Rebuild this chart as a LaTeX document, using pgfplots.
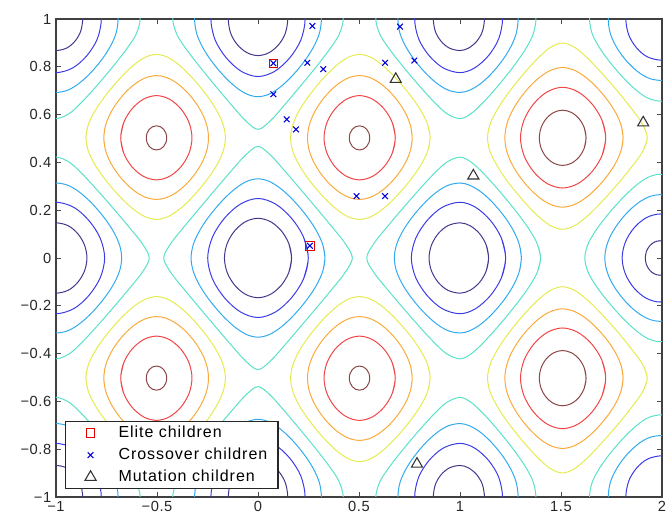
\documentclass[border=0pt]{standalone}
\usepackage{fontspec}
\setmainfont{Liberation Sans}
\usepackage{pgfplots}
\usepackage{pgfplotstable}
\pgfplotsset{compat=1.18}

\definecolor{c5}{RGB}{70,55,140}
\definecolor{c10}{RGB}{60,60,230}
\definecolor{c15}{RGB}{50,170,240}
\definecolor{c20}{RGB}{90,225,200}
\definecolor{c25}{RGB}{228,235,80}
\definecolor{c30}{RGB}{250,170,60}
\definecolor{c35}{RGB}{240,70,70}
\definecolor{c40}{RGB}{140,70,70}

\def\X{\thisrow{x}}
\def\Y{\thisrow{y}}
\newcommand{\cplot}[4]{\addplot[cl,#1] table[x expr=#2,y expr=#3]{#4};}

% contour rings of the Rastrigin function, levels 5,10,...,40
% basin (0,0)
\pgfplotstableread{
x y
0.1524 -0.0610
0.1661 0
0.1524 0.0610
0.1146 0.1146
0.0610 0.1524
0 0.1661
-0.0610 0.1524
-0.1146 0.1146
-0.1524 0.0610
-0.1661 0
-0.1524 -0.0610
-0.1146 -0.1146
-0.0610 -0.1524
0 -0.1661
0.0610 -0.1524
0.1146 -0.1146
0.1524 -0.0610
0.1661 0
0.1524 0.0610
}\tAa
\pgfplotstableread{
x y
0.2258 -0.0867
0.2490 0
0.2258 0.0867
0.1661 0.1661
0.0867 0.2258
0 0.2490
-0.0867 0.2258
-0.1661 0.1661
-0.2258 0.0867
-0.2490 0
-0.2258 -0.0867
-0.1661 -0.1661
-0.0867 -0.2258
0 -0.2490
0.0867 -0.2258
0.1661 -0.1661
0.2258 -0.0867
0.2490 0
0.2258 0.0867
}\tAb
\pgfplotstableread{
x y
0.3212 -0.0537
0.3313 0
0.3212 0.0537
0.2939 0.1070
0.2548 0.1594
0.2091 0.2091
0.1594 0.2548
0.1070 0.2939
0.0537 0.3212
0 0.3313
-0.0537 0.3212
-0.1070 0.2939
-0.1594 0.2548
-0.2091 0.2091
-0.2548 0.1594
-0.2939 0.1070
-0.3212 0.0537
-0.3313 0
-0.3212 -0.0537
-0.2939 -0.1070
-0.2548 -0.1594
-0.2091 -0.2091
-0.1594 -0.2548
-0.1070 -0.2939
-0.0537 -0.3212
0 -0.3313
0.0537 -0.3212
0.1070 -0.2939
0.1594 -0.2548
0.2091 -0.2091
0.2548 -0.1594
0.2939 -0.1070
0.3212 -0.0537
0.3313 0
0.3212 0.0537
}\tAc
\pgfplotstableread{
x y
0.4303 -0.0622
0.4670 0
0.4303 0.0622
0.3722 0.1244
0.3107 0.1870
0.2490 0.2490
0.1870 0.3107
0.1244 0.3722
0.0622 0.4303
0 0.4670
-0.0622 0.4303
-0.1244 0.3722
-0.1870 0.3107
-0.2490 0.2490
-0.3107 0.1870
-0.3722 0.1244
-0.4303 0.0622
-0.4670 0
-0.4303 -0.0622
-0.3722 -0.1244
-0.3107 -0.1870
-0.2490 -0.2490
-0.1870 -0.3107
-0.1244 -0.3722
-0.0622 -0.4303
0 -0.4670
0.0622 -0.4303
0.1244 -0.3722
0.1870 -0.3107
0.2490 -0.2490
0.3107 -0.1870
0.3722 -0.1244
0.4303 -0.0622
0.4670 0
0.4303 0.0622
}\tAd

% basin (1,0), also used mirrored for (-1,0), (0,1), (0,-1)
\pgfplotstableread{
x y
1.1297 -0.0543
1.1414 0
1.1297 0.0543
1.0968 0.1021
1.0496 0.1352
1.0 0.1471
0.9401 0.1352
0.8924 0.1021
0.8589 0.0543
0.8469 0
0.8589 -0.0543
0.8924 -0.1021
0.9401 -0.1352
1.0 -0.1471
1.0496 -0.1352
1.0968 -0.1021
1.1297 -0.0543
1.1414 0
1.1297 0.0543
}\tBa
\pgfplotstableread{
x y
1.2054 -0.0822
1.2260 0
1.2054 0.0822
1.1510 0.1568
1.0771 0.2121
1.0 0.2332
0.9123 0.2121
0.8371 0.1568
0.7808 0.0822
0.7592 0
0.7808 -0.0822
0.8371 -0.1568
0.9123 -0.2121
1.0 -0.2332
1.0771 -0.2121
1.1510 -0.1568
1.2054 -0.0822
1.2260 0
1.2054 0.0822
}\tBb
\pgfplotstableread{
x y
1.2950 -0.0519
1.3036 0
1.2950 0.0519
1.2714 0.1032
1.2364 0.1535
1.1943 0.2008
1.1477 0.2439
1.0980 0.2801
1.0469 0.3048
1.0 0.3138
0.9428 0.3048
0.8912 0.2801
0.8404 0.2439
0.7923 0.2008
0.7482 0.1535
0.7106 0.1032
0.6845 0.0519
0.6749 0
0.6845 -0.0519
0.7106 -0.1032
0.7482 -0.1535
0.7923 -0.2008
0.8404 -0.2439
0.8912 -0.2801
0.9428 -0.3048
1.0 -0.3138
1.0469 -0.3048
1.0980 -0.2801
1.1477 -0.2439
1.1943 -0.2008
1.2364 -0.1535
1.2714 -0.1032
1.2950 -0.0519
1.3036 0
1.2950 0.0519
}\tBc
\pgfplotstableread{
x y
1.3819 -0.0606
1.3988 0
1.3819 0.0606
1.3413 0.1211
1.2897 0.1817
1.2337 0.2411
1.1755 0.2992
1.1156 0.3545
1.0556 0.4008
1.0 0.4221
0.9341 0.4008
0.8732 0.3545
0.8119 0.2992
0.7510 0.2411
0.6905 0.1817
0.6304 0.1211
0.5735 0.0606
0.5382 0
0.5735 -0.0606
0.6304 -0.1211
0.6905 -0.1817
0.7510 -0.2411
0.8119 -0.2992
0.8732 -0.3545
0.9341 -0.4008
1.0 -0.4221
1.0556 -0.4008
1.1156 -0.3545
1.1755 -0.2992
1.2337 -0.2411
1.2897 -0.1817
1.3413 -0.1211
1.3819 -0.0606
1.3988 0
1.3819 0.0606
}\tBd

% basin (2,0)
\pgfplotstableread{
x y
2.056 -0.0271
2.062 0
2.056 0.0271
2.041 0.0504
2.019 0.0659
1.99 0.0722
1.9610 0.0659
1.9384 0.0504
1.9228 0.0271
1.9173 0
1.9228 -0.0271
1.9384 -0.0504
1.9610 -0.0659
1.99 -0.0722
2.019 -0.0659
2.041 -0.0504
2.056 -0.0271
2.062 0
2.056 0.0271
}\tCa
\pgfplotstableread{
x y
2.157 -0.0668
2.172 0
2.157 0.0668
2.1155 0.1262
2.057 0.1684
1.99 0.1842
1.9219 0.1684
1.8620 0.1262
1.8187 0.0668
1.8027 0
1.8187 -0.0668
1.8620 -0.1262
1.9219 -0.1684
1.99 -0.1842
2.057 -0.1684
2.1155 -0.1262
2.157 -0.0668
2.172 0
2.157 0.0668
}\tCb
\pgfplotstableread{
x y
2.081 0.2394
2.037 0.2582
1.99 0.2651
1.9428 0.2582
1.8975 0.2394
1.8532 0.2107
1.8118 0.1751
1.7748 0.1348
1.7444 0.0912
1.7243 0.0458
1.7171 0
1.7243 -0.0458
1.7444 -0.0912
1.7748 -0.1348
1.8118 -0.1751
1.8532 -0.2107
1.8975 -0.2394
1.9428 -0.2582
1.99 -0.2651
2.037 -0.2582
2.081 -0.2394
}\tCc
\pgfplotstableread{
x y
2.1004 0.3081
2.0461 0.3385
1.99 0.3504
1.9333 0.3385
1.8778 0.3081
1.8221 0.2657
1.7680 0.2172
1.7161 0.1651
1.6689 0.1107
1.6325 0.0554
1.6178 0
1.6325 -0.0554
1.6689 -0.1107
1.7161 -0.1651
1.7680 -0.2172
1.8221 -0.2657
1.8778 -0.3081
1.9333 -0.3385
1.99 -0.3504
2.0461 -0.3385
2.1004 -0.3081
}\tCd

% basin (1,1), lower half; mirrored for the other corners
\pgfplotstableread{
x y
1.1108 1.0422
1.1208 1.0
1.1108 0.9476
1.0828 0.9066
1.0422 0.8782
1.0 0.8680
0.9476 0.8782
0.9066 0.9066
0.8782 0.9476
0.8680 1.0
0.8782 1.0422
}\tDa
\pgfplotstableread{
x y
1.1916 1.0723
1.2104 1.0
1.1916 0.9172
1.1414 0.8469
1.0723 0.7952
1.0 0.7756
0.9172 0.7952
0.8469 0.8469
0.7952 0.9172
0.7756 1.0
0.7952 1.0723
}\tDb
\pgfplotstableread{
x y
1.2799 1.0450
1.2876 1.0
1.2799 0.9447
1.2583 0.8951
1.2257 0.8466
1.1861 0.8009
1.1418 0.7595
1.0941 0.7248
1.0450 0.7013
1.0 0.6927
0.9447 0.7013
0.8951 0.7248
0.8466 0.7595
0.8009 0.8009
0.7595 0.8466
0.7248 0.8951
0.7013 0.9447
0.6927 1.0
0.7013 1.0450
}\tDc
\pgfplotstableread{
x y
1.3618 1.0539
1.3759 1.0
1.3618 0.9357
1.3263 0.8766
1.2789 0.8174
1.2260 0.7592
1.1702 0.7024
1.1123 0.6485
1.0539 0.6036
1.0 0.5832
0.9357 0.6036
0.8766 0.6485
0.8174 0.7024
0.7592 0.7592
0.7024 0.8174
0.6485 0.8766
0.6036 0.9357
0.5832 1.0
0.6036 1.0539
}\tDd

% basin (2,1), lower left quarter
\pgfplotstableread{
x y
1.8352 1.0662
1.8210 1.0
1.8352 0.9338
1.8737 0.8796
1.9278 0.8415
2.0 0.8276
2.07 0.8415
}\tEb
\pgfplotstableread{
x y
1.7406 1.0492
1.7342 1.0
1.7406 0.9508
1.7588 0.9078
1.7867 0.8661
1.8210 0.8276
1.8599 0.7939
1.9019 0.7667
1.9449 0.7491
2.0 0.7429
2.055 0.7491
}\tEc
\pgfplotstableread{
x y
1.6535 1.0592
1.6414 1.0
1.6535 0.9408
1.6850 0.8874
1.7280 0.8345
1.7765 0.7839
1.8280 0.7369
1.8815 0.6960
1.9351 0.6669
2.0 0.6559
2.065 0.6669
}\tEd

% maximum (0.5,0.5), mirrored for the other three
\pgfplotstableread{
x y
0.8402 0.4477
0.8520 0.5025
0.8402 0.5575
0.8093 0.6122
0.7667 0.6663
0.7182 0.7182
0.6663 0.7667
0.6122 0.8093
0.5575 0.8402
0.5025 0.8520
0.4477 0.8402
0.3933 0.8093
0.3398 0.7667
0.2889 0.7182
0.2417 0.6663
0.2010 0.6122
0.1723 0.5575
0.1615 0.5025
0.1723 0.4477
0.2010 0.3933
0.2417 0.3398
0.2889 0.2889
0.3398 0.2417
0.3933 0.2010
0.4477 0.1723
0.5025 0.1615
0.5575 0.1723
0.6122 0.2010
0.6663 0.2417
0.7182 0.2889
0.7667 0.3398
0.8093 0.3933
0.8402 0.4477
0.8520 0.5025
0.8402 0.5575
}\tFa
\pgfplotstableread{
x y
0.7567 0.4575
0.7633 0.5025
0.7567 0.5477
0.7382 0.5922
0.7099 0.6352
0.6749 0.6749
0.6352 0.7099
0.5922 0.7382
0.5477 0.7567
0.5025 0.7633
0.4575 0.7567
0.4132 0.7382
0.3705 0.7099
0.3313 0.6749
0.2970 0.6352
0.2693 0.5922
0.2514 0.5477
0.2451 0.5025
0.2514 0.4575
0.2693 0.4132
0.2970 0.3705
0.3313 0.3313
0.3705 0.2970
0.4132 0.2693
0.4575 0.2514
0.5025 0.2451
0.5477 0.2514
0.5922 0.2693
0.6352 0.2970
0.6749 0.3313
0.7099 0.3705
0.7382 0.4132
0.7567 0.4575
0.7633 0.5025
0.7567 0.5477
}\tFb
\pgfplotstableread{
x y
0.6646 0.4383
0.6795 0.5025
0.6646 0.5669
0.6240 0.6240
0.5669 0.6646
0.5025 0.6795
0.4383 0.6646
0.3816 0.6240
0.3415 0.5669
0.3269 0.5025
0.3415 0.4383
0.3816 0.3816
0.4383 0.3415
0.5025 0.3269
0.5669 0.3415
0.6240 0.3816
0.6646 0.4383
0.6795 0.5025
0.6646 0.5669
}\tFc
\pgfplotstableread{
x y
0.5493 0.4831
0.5531 0.5025
0.5493 0.5220
0.5383 0.5383
0.5220 0.5493
0.5025 0.5531
0.4831 0.5493
0.4668 0.5383
0.4558 0.5220
0.4520 0.5025
0.4558 0.4831
0.4668 0.4668
0.4831 0.4558
0.5025 0.4520
0.5220 0.4558
0.5383 0.4668
0.5493 0.4831
0.5531 0.5025
0.5493 0.5220
}\tFd

% maximum (1.5,0.5), mirrored for (1.5,-0.5)
\pgfplotstableread{
x y
1.9033 0.4442
1.9270 0.5025
1.9033 0.5611
1.8541 0.6195
1.7998 0.6778
1.7425 0.7348
1.6842 0.7898
1.6251 0.8410
1.5662 0.8820
1.5076 0.8995
1.4493 0.8820
1.3916 0.8410
1.3347 0.7898
1.2799 0.7348
1.2285 0.6778
1.1837 0.6195
1.1494 0.5611
1.1364 0.5025
1.1494 0.4442
1.1837 0.3861
1.2285 0.3285
1.2799 0.2727
1.3347 0.2196
1.3916 0.1715
1.4493 0.1349
1.5076 0.1203
1.5662 0.1349
1.6251 0.1715
1.6842 0.2196
1.7425 0.2727
1.7998 0.3285
1.8541 0.3861
1.9033 0.4442
1.9270 0.5025
1.9033 0.5611
}\tGa
\pgfplotstableread{
x y
1.7987 0.4534
1.8072 0.5025
1.7987 0.5519
1.7752 0.6007
1.7407 0.6483
1.6995 0.6928
1.6542 0.7330
1.6061 0.7663
1.5570 0.7887
1.5076 0.7968
1.4585 0.7887
1.4101 0.7663
1.3634 0.7330
1.3201 0.6928
1.2816 0.6483
1.2502 0.6007
1.2295 0.5519
1.2221 0.5025
1.2295 0.4534
1.2502 0.4048
1.2816 0.3576
1.3201 0.3137
1.3634 0.2745
1.4101 0.2421
1.4585 0.2206
1.5076 0.2129
1.5570 0.2206
1.6061 0.2421
1.6542 0.2745
1.6995 0.3137
1.7407 0.3576
1.7752 0.4048
1.7987 0.4534
1.8072 0.5025
1.7987 0.5519
}\tGb
\pgfplotstableread{
x y
1.7024 0.4273
1.7214 0.5025
1.7024 0.5780
1.6520 0.6460
1.5833 0.6956
1.5076 0.7142
1.4326 0.6956
1.3656 0.6460
1.3174 0.5780
1.2995 0.5025
1.3174 0.4273
1.3656 0.3598
1.4326 0.3110
1.5076 0.2928
1.5833 0.3110
1.6520 0.3598
1.7024 0.4273
1.7214 0.5025
1.7024 0.5780
}\tGc
\pgfplotstableread{
x y
1.6147 0.4593
1.6240 0.5025
1.6147 0.5457
1.5888 0.5834
1.5510 0.6092
1.5076 0.6184
1.4647 0.6092
1.4272 0.5834
1.4017 0.5457
1.3927 0.5025
1.4017 0.4593
1.4272 0.4219
1.4647 0.3963
1.5076 0.3872
1.5510 0.3963
1.5888 0.4219
1.6147 0.4593
1.6240 0.5025
1.6147 0.5457
}\tGd

\begin{document}
\begin{tikzpicture}
\begin{axis}[
    scale only axis,
    width=454.5pt, height=358.5pt,
    xmin=-1, xmax=2, ymin=-1, ymax=1,
    xtick={-1,-0.5,0,0.5,1,1.5,2},
    xticklabels={−1,−0.5,0,0.5,1,1.5,2},
    ytick={-1,-0.8,-0.6,-0.4,-0.2,0,0.2,0.4,0.6,0.8,1},
    yticklabels={−1,−0.8,−0.6,−0.4,−0.2,0,0.2,0.4,0.6,0.8,1},
    tick label style={font=\fontsize{11}{12}\selectfont\addfontfeatures{LetterSpace=4}, text=black!85},
    tick align=inside,
    major tick length=4pt,
    tick style={black!70, line width=0.6pt},
    axis line style={black!75, line width=1pt},
    cl/.style={smooth, tension=0.55, line width=0.75pt, no markers, forget plot},
    legend image code/.code={
        \path[draw=none, fill=none] (0pt,-3pt) rectangle (29.5pt,3pt);
        \draw[mark repeat=2,mark phase=2,#1] plot coordinates {(0pt,0pt) (10.75pt,0pt) (29.5pt,0pt)};
    },
    legend style={at={(0.0149,0.0167)}, anchor=south west,
        draw=black!85, line width=0.8pt, fill=white,
        font=\fontsize{12}{14}\selectfont\addfontfeatures{LetterSpace=6},
        inner xsep=8pt, inner ysep=3pt, row sep=5.5pt, column sep=2.25pt,
        nodes={inner xsep=0pt, inner ysep=0pt, text height=8.6pt, text depth=2.4pt}},
    legend cell align=left,
]
\coordinate (sw) at (rel axis cs:0,0);
\coordinate (ne) at (rel axis cs:1,1);

% basin (0,0)
\cplot{c5}{\X}{\Y}{\tAa}
\cplot{c10}{\X}{\Y}{\tAb}
\cplot{c15}{\X}{\Y}{\tAc}
\cplot{c20}{\X}{\Y}{\tAd}

% basins (1,0), (-1,0), (0,1), (0,-1)
\cplot{c5}{\X}{\Y}{\tBa}
\cplot{c10}{\X}{\Y}{\tBb}
\cplot{c15}{\X}{\Y}{\tBc}
\cplot{c20}{\X}{\Y}{\tBd}
\cplot{c5}{-\X}{\Y}{\tBa}
\cplot{c10}{-\X}{\Y}{\tBb}
\cplot{c15}{-\X}{\Y}{\tBc}
\cplot{c20}{-\X}{\Y}{\tBd}
\cplot{c5}{\Y}{\X}{\tBa}
\cplot{c10}{\Y}{\X}{\tBb}
\cplot{c15}{\Y}{\X}{\tBc}
\cplot{c20}{\Y}{\X}{\tBd}
\cplot{c5}{\Y}{-\X}{\tBa}
\cplot{c10}{\Y}{-\X}{\tBb}
\cplot{c15}{\Y}{-\X}{\tBc}
\cplot{c20}{\Y}{-\X}{\tBd}

% basin (2,0)
\cplot{c5}{\X}{\Y}{\tCa}
\cplot{c10}{\X}{\Y}{\tCb}
\cplot{c15}{\X}{\Y}{\tCc}
\cplot{c20}{\X}{\Y}{\tCd}

% corner basins (+-1,+-1)
\cplot{c5}{\X}{\Y}{\tDa}
\cplot{c10}{\X}{\Y}{\tDb}
\cplot{c15}{\X}{\Y}{\tDc}
\cplot{c20}{\X}{\Y}{\tDd}
\cplot{c5}{-\X}{\Y}{\tDa}
\cplot{c10}{-\X}{\Y}{\tDb}
\cplot{c15}{-\X}{\Y}{\tDc}
\cplot{c20}{-\X}{\Y}{\tDd}
\cplot{c5}{\X}{-\Y}{\tDa}
\cplot{c10}{\X}{-\Y}{\tDb}
\cplot{c15}{\X}{-\Y}{\tDc}
\cplot{c20}{\X}{-\Y}{\tDd}
\cplot{c5}{-\X}{-\Y}{\tDa}
\cplot{c10}{-\X}{-\Y}{\tDb}
\cplot{c15}{-\X}{-\Y}{\tDc}
\cplot{c20}{-\X}{-\Y}{\tDd}

% corner basins (2,+-1)
\cplot{c10}{\X}{\Y}{\tEb}
\cplot{c15}{\X}{\Y}{\tEc}
\cplot{c20}{\X}{\Y}{\tEd}
\cplot{c10}{\X}{-\Y}{\tEb}
\cplot{c15}{\X}{-\Y}{\tEc}
\cplot{c20}{\X}{-\Y}{\tEd}

% maxima (+-0.5,+-0.5)
\cplot{c25}{\X}{\Y}{\tFa}
\cplot{c30}{\X}{\Y}{\tFb}
\cplot{c35}{\X}{\Y}{\tFc}
\cplot{c40}{\X}{\Y}{\tFd}
\cplot{c25}{-\X}{\Y}{\tFa}
\cplot{c30}{-\X}{\Y}{\tFb}
\cplot{c35}{-\X}{\Y}{\tFc}
\cplot{c40}{-\X}{\Y}{\tFd}
\cplot{c25}{\X}{-\Y}{\tFa}
\cplot{c30}{\X}{-\Y}{\tFb}
\cplot{c35}{\X}{-\Y}{\tFc}
\cplot{c40}{\X}{-\Y}{\tFd}
\cplot{c25}{-\X}{-\Y}{\tFa}
\cplot{c30}{-\X}{-\Y}{\tFb}
\cplot{c35}{-\X}{-\Y}{\tFc}
\cplot{c40}{-\X}{-\Y}{\tFd}

% maxima (1.5,+-0.5)
\cplot{c25}{\X}{\Y}{\tGa}
\cplot{c30}{\X}{\Y}{\tGb}
\cplot{c35}{\X}{\Y}{\tGc}
\cplot{c40}{\X}{\Y}{\tGd}
\cplot{c25}{\X}{-\Y}{\tGa}
\cplot{c30}{\X}{-\Y}{\tGb}
\cplot{c35}{\X}{-\Y}{\tGc}
\cplot{c40}{\X}{-\Y}{\tGd}

% children
\addplot[only marks, mark=square, mark size=3.2pt, red!90!black, line width=0.6pt]
    coordinates {(0.076,0.815) (0.257,0.051)};
\addlegendentry{Elite children}
\addplot[only marks, mark=x, mark size=3pt, blue!85!black, line width=0.8pt]
    coordinates {(0.269,0.971) (0.703,0.968) (0.244,0.817) (0.323,0.790)
                 (0.629,0.817) (0.774,0.826) (0.076,0.685) (0.142,0.580)
                 (0.188,0.538) (0.488,0.259) (0.629,0.259) (0.076,0.815)
                 (0.257,0.051)};
\addlegendentry{Crossover children}
\addplot[only marks, mark=triangle, mark size=4.8pt, black!80, line width=0.8pt]
    coordinates {(0.682,0.748) (1.066,0.344) (1.907,0.566) (0.787,-0.862)};
\addlegendentry{Mutation children}
\end{axis}
\pgfresetboundingbox
\path[use as bounding box] ([shift={(-42pt,-21pt)}]sw) rectangle ([shift={(4.5pt,14.25pt)}]ne);
\end{tikzpicture}
\end{document}
